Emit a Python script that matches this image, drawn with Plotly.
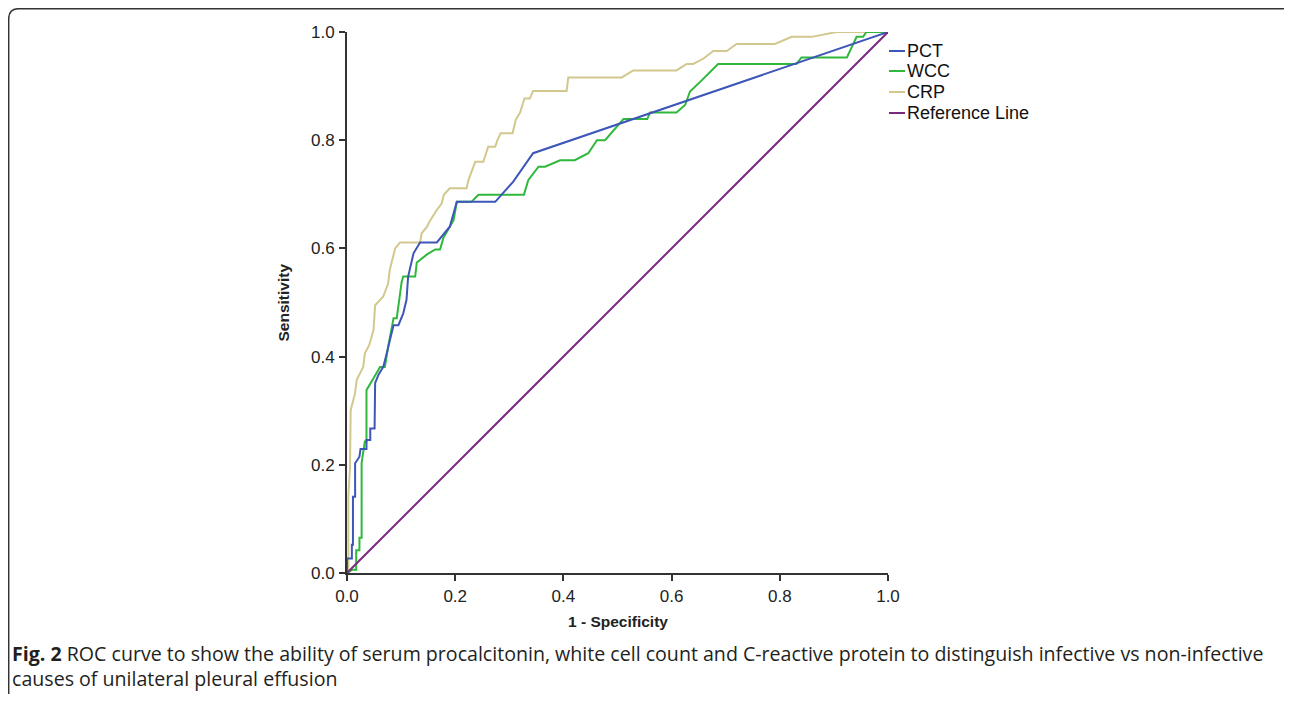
import plotly.graph_objects as go

# figure is sized to fit inside the 1292x702 window together with the 8px page margin
W, H = 1276, 686
OFF = 8

# ---- data (1 - specificity, sensitivity) ----
pct_x = [0, 0, 0.009, 0.009, 0.011, 0.011, 0.015, 0.015, 0.023, 0.025, 0.036, 0.036, 0.043, 0.043,
         0.051, 0.052, 0.058, 0.067, 0.072, 0.079, 0.086, 0.095, 0.104, 0.110, 0.113, 0.123, 0.135,
         0.166, 0.190, 0.197, 0.203, 0.274, 0.283, 0.307, 0.344, 1.0]
pct_y = [0, 0.027, 0.027, 0.052, 0.052, 0.141, 0.141, 0.203, 0.215, 0.229, 0.229, 0.246, 0.246, 0.267,
         0.267, 0.351, 0.366, 0.381, 0.400, 0.431, 0.458, 0.458, 0.480, 0.505, 0.548, 0.591, 0.611,
         0.611, 0.640, 0.665, 0.686, 0.686, 0.696, 0.723, 0.776, 1.0]

wcc_x = [0, 0.010, 0.017, 0.017, 0.023, 0.023, 0.027, 0.027, 0.033, 0.036, 0.036, 0.043, 0.049, 0.061,
         0.070, 0.076, 0.083, 0.086, 0.092, 0.098, 0.101, 0.104, 0.126, 0.129, 0.144, 0.148, 0.163,
         0.172, 0.178, 0.187, 0.197, 0.203, 0.230, 0.243, 0.327, 0.335, 0.354, 0.366, 0.394, 0.421,
         0.446, 0.462, 0.477, 0.511, 0.555, 0.560, 0.609, 0.625, 0.634, 0.656, 0.686, 0.831, 0.840,
         0.924, 0.942, 0.954, 0.960, 1.0]
wcc_y = [0, 0.006, 0.006, 0.042, 0.042, 0.065, 0.065, 0.203, 0.243, 0.243, 0.338, 0.351, 0.360, 0.381,
         0.381, 0.418, 0.458, 0.471, 0.471, 0.520, 0.538, 0.548, 0.548, 0.574, 0.585, 0.589, 0.598,
         0.598, 0.619, 0.634, 0.652, 0.686, 0.686, 0.699, 0.699, 0.726, 0.751, 0.751, 0.763, 0.763,
         0.776, 0.800, 0.800, 0.839, 0.839, 0.851, 0.851, 0.865, 0.890, 0.911, 0.941, 0.941, 0.953,
         0.953, 0.991, 0.991, 1.0, 1.0]

crp_x = [0, 0.0025, 0.0025, 0.0055, 0.0068, 0.0105, 0.0148, 0.018, 0.030, 0.033, 0.041, 0.049, 0.052,
         0.067, 0.076, 0.079, 0.085, 0.089, 0.098, 0.135, 0.138, 0.148, 0.152, 0.160, 0.166, 0.175,
         0.179, 0.190, 0.221, 0.224, 0.237, 0.252, 0.261, 0.274, 0.278, 0.284, 0.306, 0.312, 0.320,
         0.328, 0.338, 0.344, 0.406, 0.409, 0.508, 0.529, 0.609, 0.628, 0.640, 0.659, 0.677, 0.702,
         0.720, 0.791, 0.822, 0.859, 0.905, 1.0]
crp_y = [0, 0, 0.141, 0.193, 0.301, 0.317, 0.332, 0.357, 0.381, 0.406, 0.421, 0.449, 0.495,
         0.511, 0.535, 0.560, 0.585, 0.600, 0.611, 0.611, 0.628, 0.640, 0.649, 0.662, 0.671, 0.683,
         0.699, 0.711, 0.711, 0.725, 0.760, 0.760, 0.788, 0.788, 0.800, 0.813, 0.813, 0.838, 0.851,
         0.877, 0.877, 0.891, 0.891, 0.916, 0.916, 0.929, 0.929, 0.941, 0.941, 0.951, 0.965, 0.965,
         0.978, 0.978, 0.991, 0.991, 1.0, 1.0]

ref_x = [0, 1]
ref_y = [0, 1]

series_names = ["PCT", "WCC", "CRP", "Reference Line"]
series_colors = ["#3d56b8", "#2fb83c", "#d2c88e", "#7a2a7e"]
tick_vals = [0, 0.2, 0.4, 0.6, 0.8, 1.0]
tick_text = ["0.0", "0.2", "0.4", "0.6", "0.8", "1.0"]

# ---- layout helpers (window pixel -> paper) ----
def px(x):
    return (x - OFF) / W

def py(y):
    return 1 - (y - OFF) / H

X0, X1, Y0, Y1 = 347, 888, 573, 32   # plot area in window pixels

fig = go.Figure()
data = {"PCT": (pct_x, pct_y), "WCC": (wcc_x, wcc_y), "CRP": (crp_x, crp_y),
        "Reference Line": (ref_x, ref_y)}
for name in ["CRP", "WCC", "PCT", "Reference Line"]:
    c = series_colors[series_names.index(name)]
    xs, ys = data[name]
    fig.add_trace(go.Scatter(x=xs, y=ys, mode="lines", name=name,
                             line=dict(color=c, width=2), showlegend=False,
                             hoverinfo="skip"))

axis_common = dict(range=[0, 1], tickvals=tick_vals, ticktext=tick_text, showgrid=False,
                   zeroline=False, showline=True, linecolor="#333333", linewidth=2,
                   ticks="outside", ticklen=6, tickwidth=1.5, tickcolor="#333333",
                   tickfont=dict(family="Liberation Sans, Arial", size=17, color="#222222"),
                   automargin=False, fixedrange=True)

fig.update_layout(
    template="none",
    width=W, height=H,
    margin=dict(l=0, r=0, t=0, b=0, pad=0),
    paper_bgcolor="white", plot_bgcolor="white",
    xaxis=dict(domain=[px(X0), px(X1)], **axis_common),
    yaxis=dict(domain=[py(Y0), py(Y1)], **axis_common),
    showlegend=False,
)
fig.update_xaxes(ticklabelstandoff=1)
fig.update_yaxes(ticklabelstandoff=1)

anns = []
title_font = dict(family="Liberation Sans, Arial", size=15.5, color="#222222")
anns.append(dict(x=px((X0 + X1) / 2), y=py(621), xref="paper", yref="paper", showarrow=False,
                 text="<b>1 - Specificity</b>", xanchor="center", yanchor="middle",
                 font=title_font))
anns.append(dict(x=px(283), y=py((Y0 + Y1) / 2), xref="paper", yref="paper", showarrow=False,
                 text="<b>Sensitivity</b>", textangle=-90, xanchor="center", yanchor="middle",
                 font=title_font))

# legend drawn beside the plot
leg_y = [51, 71, 92, 113]
shapes = []
for name, c, yy in zip(series_names, series_colors, leg_y):
    shapes.append(dict(type="line", xref="paper", yref="paper", x0=px(889), x1=px(905),
                       y0=py(yy), y1=py(yy), line=dict(color=c, width=2)))
    anns.append(dict(x=px(905), y=py(yy), xref="paper", yref="paper", showarrow=False,
                     text=name, xanchor="left", yanchor="middle",
                     font=dict(family="Liberation Sans, Arial", size=18, color="#111111")))

# caption (two lines in one text block)
cap_font = dict(family="Open Sans, Noto Sans", size=19.6, color="#231f20")
anns.append(dict(x=px(10), y=py(694), xref="paper", yref="paper", showarrow=False,
                 xanchor="left", yanchor="bottom", align="left", font=cap_font,
                 text="<b>Fig. 2</b> ROC curve to show the ability of serum procalcitonin, white cell count and "
                      "C-reactive protein to distinguish infective vs non-infective<br>"
                      "causes of unilateral pleural effusion"))

# rounded frame (clipped at the figure edge)
r = 10
path = (f"M {px(8.7)},{py(694)} L {px(8.7)},{py(8.7 + r)} Q {px(8.7)},{py(8.7)} {px(8.7 + r)},{py(8.7)} "
        f"L {px(1284)},{py(8.7)}")
shapes.append(dict(type="path", xref="paper", yref="paper", path=path,
                   line=dict(color="#333333", width=1.5)))

fig.update_layout(annotations=anns, shapes=shapes)
fig.write_html("out.html")
